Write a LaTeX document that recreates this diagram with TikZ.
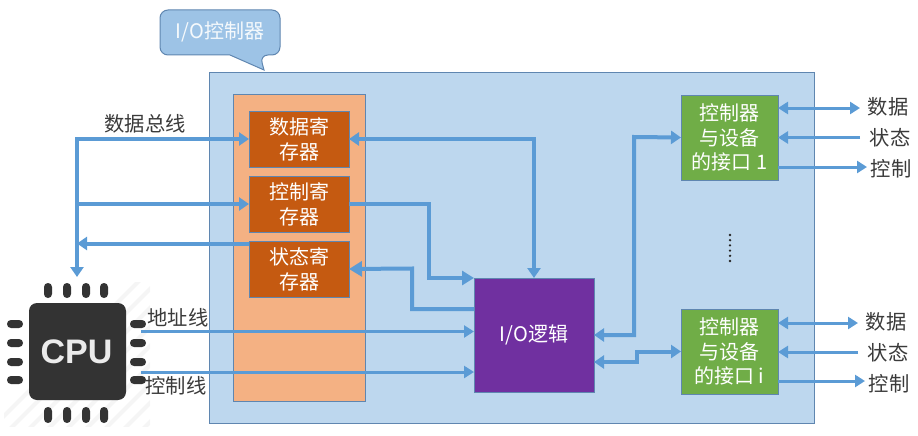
\documentclass[tikz,border=0pt]{standalone}
\usepackage{fontspec}
\setmainfont{Noto Sans CJK SC}
\newfontfamily\cpufont{Liberation Sans}
\usetikzlibrary{arrows.meta,calc}
\definecolor{panelblue}{HTML}{BDD7EE}
\definecolor{edgeblue}{HTML}{5F86B0}
\definecolor{wire}{HTML}{5B9BD5}
\definecolor{panelorange}{HTML}{F4B183}
\definecolor{regorange}{HTML}{C55A11}
\definecolor{ifgreen}{HTML}{70AD47}
\definecolor{logicpurple}{HTML}{7030A0}
\definecolor{calloutblue}{HTML}{9DC3E6}
\definecolor{chipdark}{HTML}{333333}
\definecolor{labelgrey}{HTML}{3A3A3A}
\tikzset{
  block/.style={draw=edgeblue,line width=1pt,inner sep=0pt,outer sep=0pt,align=center,text=white,
    font=\fontsize{20}{25}\selectfont},
  regbox/.style={block,fill=regorange,minimum width=100pt,minimum height=56pt},
  ifbox/.style={block,fill=ifgreen,minimum width=97pt,minimum height=85pt,font=\fontsize{20}{24.3}\selectfont},
  logicbox/.style={block,fill=logicpurple,minimum width=120pt,minimum height=114pt},
  panelbox/.style={draw=edgeblue,line width=1pt,inner sep=0pt,outer sep=0pt},
  wirebus/.style={draw=wire,line width=4pt,line join=miter,-{Triangle[length=10pt,width=13pt]}},
  wirethin/.style={wirebus,line width=3pt,-{Triangle[length=10pt,width=12pt]}},
  wireboth/.style={wirebus,{Triangle[length=10pt,width=13pt]}-{Triangle[length=10pt,width=13pt]}},
  thinboth/.style={wirethin,{Triangle[length=10pt,width=12pt]}-{Triangle[length=10pt,width=12pt]}},
  tag/.style={text=labelgrey,inner sep=0pt,font=\fontsize{20.3}{24}\selectfont},
  pin/.style={fill=chipdark,rounded corners=3.9pt},
}
\begin{document}
\begin{tikzpicture}[x=1pt,y=-1pt]
\useasboundingbox (0,0) rectangle (918,436);
% chip hatching
\begin{scope}
  \clip (4,282) rectangle (150,426);
  \foreach \k in {290,309,...,580}
    \draw[black!4,line width=4pt] (\k-300,430) -- (\k-150,280);
\end{scope}
% panels
\node[panelbox,fill=panelblue,minimum width=604.5pt,minimum height=350pt] (ctrl) at (511.75,248) {};
\node[panelbox,fill=panelorange,minimum width=132.5pt,minimum height=307pt] (regpanel) at (299.25,247.5) {};
% callout
\draw[edgeblue,fill=calloutblue,line width=1pt,line join=miter,rounded corners=8pt]
  (230,55) -- (160,55) -- (160,10) -- (280,10) -- (280,55) -- (260,55)
  [sharp corners] -- (264,70) -- cycle;
\node[text=white!90!calloutblue,inner sep=0pt,font=\fontsize{20}{24}\selectfont] (calloutlabel) at (220,32) {I/O控制器};
% registers
\node[regbox] (reg1) at (299,139) {数据寄\\存器};
\node[regbox] (reg2) at (299,204) {控制寄\\存器};
\node[regbox] (reg3) at (299,269) {状态寄\\存器};
\node[logicbox] (logic) at (534,335) {I/O逻辑};
\node[ifbox] (if1) at (729.5,137.5) {控制器\\与设备\\的接口 1};
\node[ifbox] (if2) at (729.5,351.5) {控制器\\与设备\\的接口 i};
% chip
\fill[chipdark,rounded corners=8pt] (29,303) rectangle (126,400);
\foreach \p in {48,67,86,104}{
  \fill[pin] (\p-4,283) rectangle (\p+4,298);
  \fill[pin] (\p-4,407) rectangle (\p+4,423);
}
\foreach \p in {324,343,362,380}{
  \fill[pin] (7,\p-4) rectangle (23,\p+4);
  \fill[pin] (130,\p-4) rectangle (146,\p+4);
}
\node[text=white!92!black,inner sep=0pt,font=\cpufont\fontsize{34}{36}\selectfont\bfseries] (cpu) at (76.5,352) {CPU};
% free ends
\coordinate (busjoin) at (77,139);
\coordinate (busmid) at (77,204);
\coordinate (busin) at (77,243.5);
\coordinate (busend) at (77,277);
\coordinate (addrstart) at (141,331.5);
\coordinate (ctrlstart) at (141,372);
% bus
\draw[wirebus] (busjoin) -- (busend);
\draw[wirebus] ($(busjoin)+(-2,0)$) -- (reg1.west);
\draw[wirebus] (busmid) -- (reg2.west);
\draw[wirebus] (reg3.west |- busin) -- (busin);
\draw[wirethin] (addrstart) -- (logic.west |- addrstart);
\draw[wirethin] (ctrlstart) -- (logic.west |- ctrlstart);
% registers to logic
\draw[wireboth] (reg1.east) -- (logic.north |- reg1.east) -- (logic.north);
\draw[wirebus,-{Triangle[length=12pt,width=14pt]}] (reg2.east) -- (429,204) -- (429,278) -- (logic.north west);
\draw[wirebus,-{Triangle[length=13pt,width=15pt]}] (logic.west |- 0,309) -- (412,309) -- (412,268.5) -- (reg3.east);
\draw[wireboth] (logic.east) -- (634,335) -- (634,137) -- (if1.west);
\draw[wireboth] (logic.east |- 0,362) -- (637,362) -- (637,351.5) -- (if2.west);
% labels
\node[tag] (t1) at (145,124) {数据总线};
\node[tag] (t2) at (178,318) {地址线};
\node[tag] (t3) at (176,386) {控制线};
\node[tag] (d1) at (888,107) {数据};
\node[tag] (s1) at (890,138) {状态};
\node[tag] (c1) at (891,169) {控制};
\node[tag] (d2) at (886,322) {数据};
\node[tag] (s2) at (888,353) {状态};
\node[tag] (c2) at (889,384) {控制};
% device wires
\coordinate (d1end) at (860,108);
\coordinate (s1end) at (860,137.5);
\coordinate (c1end) at (867,167);
\coordinate (d2end) at (858,323);
\coordinate (s2end) at (858,352);
\coordinate (c2end) at (865,381);
\draw[thinboth] (if1.east |- d1end) -- (d1end);
\draw[wirethin] (s1end) -- (if1.east |- s1end);
\draw[wirethin] (if1.east |- c1end) -- (c1end);
\draw[thinboth] (if2.east |- d2end) -- (d2end);
\draw[wirethin] (s2end) -- (if2.east |- s2end);
\draw[wirethin] (if2.east |- c2end) -- (c2end);
% ellipsis
\foreach \y in {235,240.2,245.4,250.6,255.8,261}
  \fill[black!85] (730,\y) circle (1.3);
\end{tikzpicture}
\end{document}
